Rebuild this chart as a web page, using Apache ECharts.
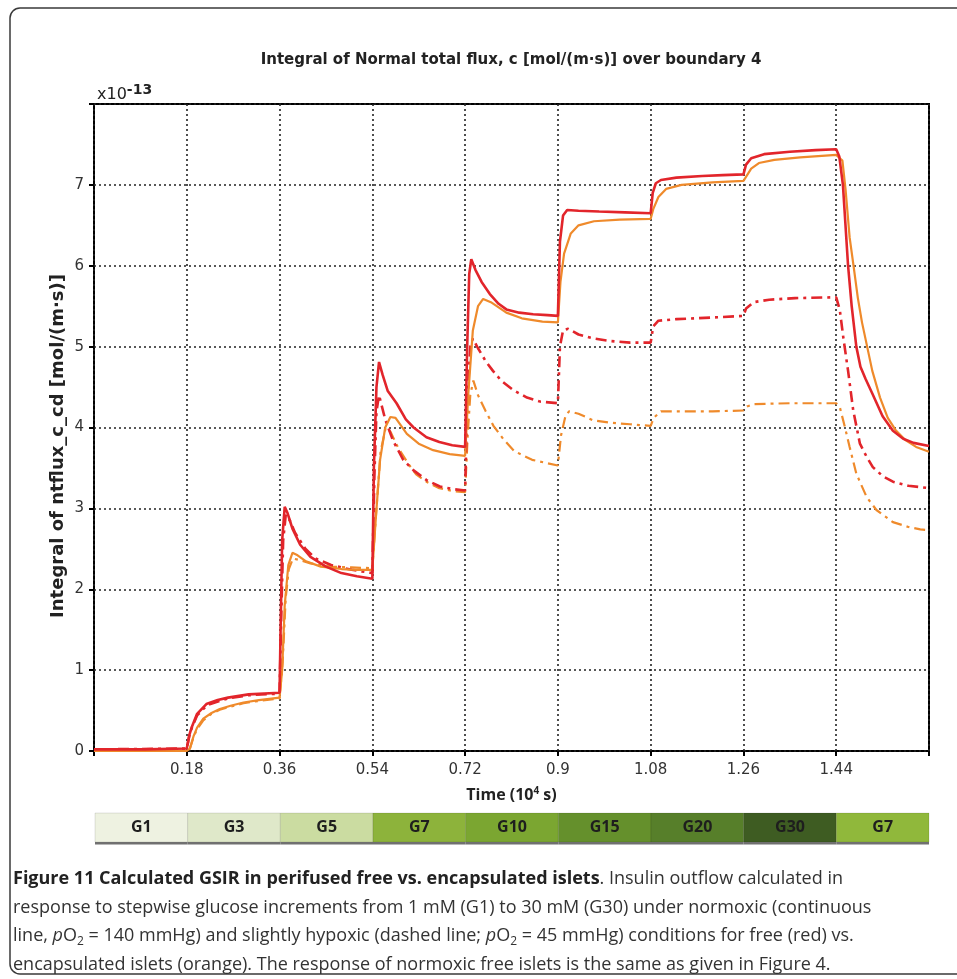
<!DOCTYPE html>
<html><head><meta charset="utf-8">
<script src="https://cdn.jsdelivr.net/npm/echarts@6/dist/echarts.min.js"></script>
<style>html,body{margin:0;padding:0;background:#fff}#c{width:957px;height:979px}</style>
</head><body><div id="c"></div>
<script>
// ---- data (time in 10^4 s, flux in 10^-13 mol/(m·s)) ----
const xTickLabels = ['0.18','0.36','0.54','0.72','0.9','1.08','1.26','1.44'];
const yTickLabels = ['0','1','2','3','4','5','6','7'];

const glucoseLabels = ['G1','G3','G5','G7','G10','G15','G20','G30','G7'];
const glucoseStart  = [0, 0.18, 0.36, 0.54, 0.72, 0.90, 1.08, 1.26, 1.44];
const glucoseEnd    = [0.18, 0.36, 0.54, 0.72, 0.90, 1.08, 1.26, 1.44, 1.62];

// free islets, normoxic (red solid)
const redSolidT = [0,0.1,0.18,0.185,0.19,0.2,0.218,0.24,0.26,0.3,
  0.36,0.362,0.365,0.37,0.375,0.385,0.4,0.42,0.45,0.48,0.51,
  0.54,0.543,0.548,0.553,0.56,0.57,0.587,0.605,0.62,0.645,0.67,0.695,
  0.72,0.724,0.728,0.732,0.74,0.752,0.768,0.785,0.8,0.825,0.852,0.88,
  0.9,0.904,0.91,0.918,0.94,0.98,1.03,
  1.08,1.084,1.09,1.1,1.13,1.18,1.22,
  1.26,1.265,1.275,1.3,1.35,1.4,
  1.44,1.446,1.453,1.463,1.47,1.479,1.487,1.497,1.51,1.53,1.55,1.57,1.59,1.62];
const redSolidV = [0.02,0.02,0.03,0.2,0.3,0.46,0.58,0.63,0.66,0.7,
  0.72,1.5,2.6,3.02,2.95,2.75,2.55,2.4,2.28,2.2,2.16,
  2.13,3.5,4.5,4.81,4.65,4.45,4.3,4.1,4.0,3.88,3.82,3.78,
  3.76,5.0,5.9,6.08,5.95,5.8,5.65,5.53,5.46,5.42,5.4,5.39,
  5.38,6.3,6.62,6.69,6.68,6.67,6.66,
  6.65,6.9,7.02,7.06,7.09,7.11,7.12,
  7.13,7.25,7.33,7.38,7.41,7.43,
  7.44,7.35,7.0,6.0,5.5,5.0,4.75,4.6,4.42,4.14,3.96,3.86,3.81,3.77];

// encapsulated islets, normoxic (orange solid)
const orangeSolidT = [0,0.18,0.186,0.193,0.2,0.212,0.228,0.244,0.265,0.29,0.32,
  0.36,0.365,0.37,0.377,0.385,0.395,0.41,0.44,0.48,0.51,
  0.54,0.547,0.555,0.565,0.575,0.585,0.607,0.63,0.658,0.69,
  0.72,0.726,0.735,0.745,0.755,0.77,0.8,0.83,0.87,
  0.9,0.905,0.912,0.925,0.94,0.97,1.02,
  1.08,1.085,1.095,1.11,1.14,1.2,
  1.26,1.265,1.275,1.29,1.32,1.37,
  1.44,1.452,1.458,1.466,1.474,1.482,1.49,1.5,1.51,1.525,1.54,1.555,1.575,1.595,1.62];
const orangeSolidV = [0.0,0.0,0.03,0.18,0.29,0.4,0.47,0.52,0.56,0.6,0.63,
  0.66,1.0,1.8,2.3,2.45,2.42,2.35,2.28,2.25,2.24,
  2.24,2.9,3.6,4.0,4.13,4.12,3.92,3.8,3.72,3.67,
  3.65,4.4,5.2,5.5,5.59,5.55,5.42,5.35,5.31,
  5.3,5.8,6.15,6.4,6.5,6.55,6.57,
  6.58,6.7,6.85,6.95,7.0,7.03,
  7.05,7.1,7.2,7.27,7.31,7.34,
  7.37,7.3,6.95,6.35,5.98,5.6,5.3,5.0,4.7,4.37,4.12,3.97,3.84,3.76,3.7];

// free islets, hypoxic (red dash-dot)
const redDashT = [0,0.18,0.185,0.19,0.2,0.22,0.26,0.3,
  0.36,0.363,0.367,0.372,0.38,0.39,0.41,0.43,0.46,0.5,
  0.54,0.544,0.548,0.553,0.565,0.58,0.6,0.62,0.645,0.671,0.695,
  0.72,0.724,0.73,0.735,0.745,0.76,0.774,0.79,0.814,0.84,0.866,
  0.9,0.904,0.91,0.92,0.94,0.97,1.0,1.04,
  1.08,1.085,1.095,1.13,1.2,
  1.26,1.265,1.28,1.31,1.36,
  1.44,1.447,1.454,1.463,1.473,1.486,1.498,1.511,1.53,1.55,1.58,1.62];
const redDashV = [0.02,0.03,0.19,0.29,0.44,0.57,0.65,0.69,
  0.71,1.6,2.6,2.92,2.85,2.7,2.5,2.38,2.3,2.24,
  2.2,3.4,4.2,4.4,4.1,3.84,3.6,3.47,3.35,3.27,3.24,
  3.22,4.3,5.0,5.1,4.98,4.82,4.7,4.58,4.46,4.37,4.32,
  4.3,5.0,5.2,5.22,5.15,5.1,5.07,5.05,
  5.05,5.25,5.32,5.34,5.36,
  5.38,5.47,5.55,5.58,5.6,
  5.61,5.45,5.1,4.7,4.21,3.8,3.65,3.51,3.4,3.33,3.28,3.25];

// encapsulated islets, hypoxic (orange dash-dot)
const orangeDashT = [0,0.18,0.186,0.193,0.2,0.212,0.228,0.244,0.265,0.29,0.32,
  0.36,0.366,0.372,0.378,0.386,0.4,0.42,0.46,0.5,
  0.54,0.548,0.556,0.566,0.575,0.59,0.61,0.625,0.645,0.67,0.7,
  0.72,0.725,0.73,0.736,0.745,0.76,0.775,0.795,0.815,0.85,
  0.9,0.906,0.915,0.922,0.94,0.968,1.0,1.04,
  1.08,1.086,1.1,1.15,1.2,
  1.26,1.267,1.28,1.35,
  1.44,1.447,1.457,1.466,1.479,1.499,1.518,1.55,1.58,1.603,1.62];
const orangeDashV = [0.0,0.0,0.03,0.17,0.27,0.38,0.46,0.51,0.55,0.59,0.62,
  0.65,1.1,1.9,2.25,2.38,2.36,2.32,2.28,2.27,
  2.26,3.0,3.7,4.0,3.95,3.75,3.55,3.42,3.33,3.25,3.21,
  3.2,3.9,4.4,4.58,4.4,4.2,4.02,3.85,3.71,3.6,
  3.53,3.9,4.15,4.2,4.17,4.09,4.06,4.04,
  4.02,4.12,4.2,4.2,4.2,
  4.21,4.26,4.29,4.3,
  4.3,4.25,4.0,3.76,3.43,3.14,2.98,2.83,2.77,2.74,2.73];

// ---- styles ----
const RED = '#e2252b', ORANGE = '#ef8a2b';
const glucoseColors = ['#eef2e1','#dfe8c9','#cbdca1','#8db33b','#7ba631','#65902c','#577f2a','#3e5c22','#90b83b'];
const zip = (t, v) => t.map((x, i) => [x, v[i]]);

const chart = echarts.init(document.getElementById('c'), null, {renderer: 'canvas'});
const tickFont = {fontFamily: 'DejaVu Sans', fontSize: 15, color: '#333'};

chart.setOption({
  animation: false,
  backgroundColor: '#fff',
  grid: [
    {left: 94, right: 28, top: 104, bottom: 228, show: true, borderColor: '#000', borderWidth: 2, backgroundColor: 'transparent'},
    {left: 95, right: 28, top: 813, height: 29}
  ],
  xAxis: [
    {gridIndex: 0, type: 'value', min: 0, max: 1.62, interval: 0.18,
     axisLine: {show: false}, axisTick: {show: false},
     axisLabel: Object.assign({margin: 12, formatter: (v, i) => xTickLabels[i - 1] || ''}, tickFont),
     splitLine: {show: true, lineStyle: {color: '#222', width: 1.6, type: [2, 3]}},
     name: '{a|Time (10}{s|4}{a| s)}', nameLocation: 'middle', nameGap: 35,
     nameTextStyle: {rich: {
       a: {fontFamily: 'Open Sans', fontWeight: 'bold', fontSize: 16, color: '#222'},
       s: {fontFamily: 'Open Sans', fontWeight: 'bold', fontSize: 10, color: '#222', padding: [0, 0, 8, 0]}
     }}},
    {gridIndex: 1, type: 'value', min: 0, max: 1.62, show: false},
    {gridIndex: 0, type: 'value', min: 0, max: 1.62, interval: 0.18, position: 'top',
     axisLine: {show: false}, axisLabel: {show: false}, splitLine: {show: false},
     axisTick: {show: true, inside: true, length: 5, lineStyle: {color: '#000', width: 2}}}
  ],
  yAxis: [
    {gridIndex: 0, type: 'value', min: 0, max: 8, interval: 1,
     axisLine: {show: false}, axisTick: {show: false},
     axisLabel: Object.assign({margin: 10, formatter: (v, i) => yTickLabels[i] || ''}, tickFont),
     splitLine: {show: true, lineStyle: {color: '#222', width: 1.6, type: [2, 3]}}},
    {gridIndex: 1, type: 'value', min: 0, max: 1, show: false},
    {gridIndex: 0, type: 'value', min: 0, max: 8, interval: 1, position: 'right',
     axisLine: {show: false}, axisLabel: {show: false}, splitLine: {show: false},
     axisTick: {show: true, inside: true, length: 5, lineStyle: {color: '#000', width: 2}}}
  ],
  series: [
    {type: 'line', name: 'encapsulated hypoxic', data: zip(orangeDashT, orangeDashV), symbol: 'none',
     lineStyle: {color: ORANGE, width: 2.2, type: [11, 5, 3, 5]}, z: 3},
    {type: 'line', name: 'free hypoxic', data: zip(redDashT, redDashV), symbol: 'none',
     lineStyle: {color: RED, width: 2.6, type: [11, 5, 3, 5]}, z: 4},
    {type: 'line', name: 'encapsulated normoxic', data: zip(orangeSolidT, orangeSolidV), symbol: 'none',
     lineStyle: {color: ORANGE, width: 2.2}, z: 5},
    {type: 'line', name: 'free normoxic', data: zip(redSolidT, redSolidV), symbol: 'none',
     lineStyle: {color: RED, width: 2.6}, z: 6},
    {type: 'custom', xAxisIndex: 1, yAxisIndex: 1,
     data: glucoseLabels.map((g, i) => [glucoseStart[i], glucoseEnd[i]]),
     renderItem: (params, api) => {
       const p0 = api.coord([api.value(0), 1]);
       const p1 = api.coord([api.value(1), 0]);
       const w = p1[0] - p0[0], h = p1[1] - p0[1];
       return {type: 'group', children: [
         {type: 'rect', shape: {x: p0[0], y: p0[1], width: w, height: h},
          style: {fill: glucoseColors[params.dataIndex], stroke: 'rgba(0,0,0,0.10)', lineWidth: 1}},
         {type: 'rect', shape: {x: p0[0], y: p1[1], width: w, height: 2.5},
          style: {fill: '#707070'}},
         {type: 'text', x: p0[0] + w / 2, y: p0[1] + h / 2,
          style: {text: glucoseLabels[params.dataIndex], align: 'center', verticalAlign: 'middle',
                  textAlign: 'center', textVerticalAlign: 'middle',
                  font: 'bold 16px "Open Sans"', fill: '#1e1e1e'}}
       ]};
     }}
  ],
  graphic: [
    {type: 'rect', shape: {x: 10, y: 8, width: 980, height: 966, r: 10},
     style: {fill: 'none', stroke: '#3a3a3a', lineWidth: 1.5}, z: 0, silent: true},
    {type: 'text', x: 511, y: 60,
     style: {text: 'Integral of Normal total flux, c [mol/(m·s)] over boundary 4',
             align: 'center', verticalAlign: 'middle', textAlign: 'center', textVerticalAlign: 'middle',
             font: 'bold 15px "DejaVu Sans"', fill: '#222'}},
    {type: 'text', x: 97, y: 107,
     style: {text: '{a|x10}{s|-13}', align: 'left', verticalAlign: 'bottom', textVerticalAlign: 'bottom',
             rich: {a: {font: '16px "DejaVu Sans"', fill: '#222'},
                    s: {font: 'bold 14px "DejaVu Sans"', fill: '#222', padding: [0, 0, 10, 0]}}}},
    {type: 'text', x: 58, y: 446, rotation: Math.PI / 2,
     style: {text: 'Integral of ntflux_c_cd [mol/(m·s)]', align: 'center', verticalAlign: 'middle',
             textAlign: 'center', textVerticalAlign: 'middle',
             font: 'bold 18px "DejaVu Sans"', fill: '#222'}},
    {type: 'text', x: 13, y: 865,
     style: {
       text: '{b|Figure 11 Calculated GSIR in perifused free vs. encapsulated islets}{n|. Insulin outflow calculated in}\n' +
             '{n|response to stepwise glucose increments from 1 mM (G1) to 30 mM (G30) under normoxic (continuous}\n' +
             '{n|line, }{i|p}{n|O}{s|2}{n| = 140 mmHg) and slightly hypoxic (dashed line; }{i|p}{n|O}{s|2}{n| = 45 mmHg) conditions for free (red) vs.}\n' +
             '{n|encapsulated islets (orange). The response of normoxic free islets is the same as given in Figure 4.}',
       align: 'left', verticalAlign: 'top',
       rich: {
         b: {font: 'bold 18px "Open Sans"', fill: '#222', lineHeight: 28.5},
         n: {font: '18px "Open Sans"', fill: '#333', lineHeight: 28.5},
         i: {font: 'italic 18px "Open Sans"', fill: '#333', lineHeight: 28.5},
         s: {font: '12px "Open Sans"', fill: '#333', lineHeight: 12, padding: [10, 0, 0, 0]}
       }
     }}
  ]
});
</script></body></html>
